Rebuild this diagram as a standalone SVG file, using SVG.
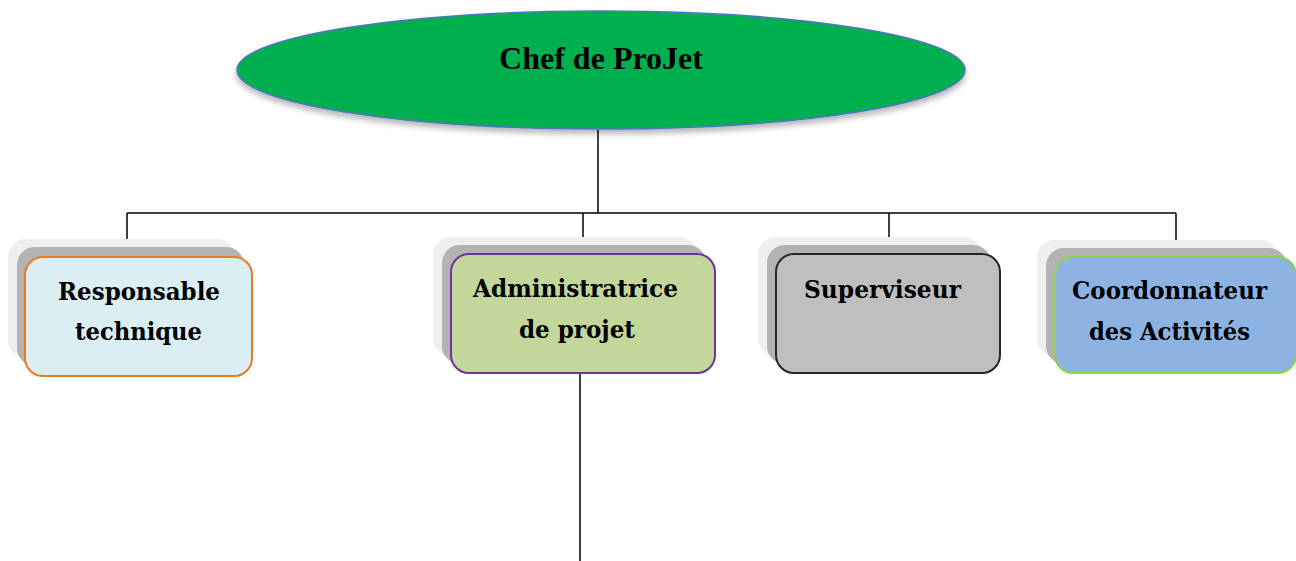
<svg xmlns="http://www.w3.org/2000/svg" width="1296" height="561" viewBox="0 0 1296 561">
<style>
.sh1{fill:#EFEFEF}
.sh2{fill:#B3B3B3}
.lbl{font-family:"DejaVu Serif","Liberation Serif",serif;font-weight:bold;font-size:24px;fill:#000;text-anchor:middle}
.con{stroke:#000;stroke-width:1.5;fill:none}
</style>
<defs>
<filter id="es" x="-10%" y="-20%" width="120%" height="150%"><feGaussianBlur in="SourceAlpha" stdDeviation="3"/><feOffset dy="4"/><feComponentTransfer><feFuncA type="linear" slope="0.3"/></feComponentTransfer><feMerge><feMergeNode/><feMergeNode in="SourceGraphic"/></feMerge></filter>
</defs>
<g id="connectors">
<line class="con" x1="598" y1="130" x2="598" y2="213"/>
<line class="con" x1="127" y1="213" x2="1176" y2="213"/>
<line class="con" x1="127" y1="213" x2="127" y2="257"/>
<line class="con" x1="583" y1="213" x2="583" y2="254"/>
<line class="con" x1="889" y1="213" x2="889" y2="254"/>
<line class="con" x1="1176" y1="213" x2="1176" y2="257"/>
<line class="con" x1="580" y1="373" x2="580" y2="561"/>
</g>
<g id="chef">
<ellipse cx="601" cy="70" rx="364" ry="59" fill="#00B050" stroke="#4F75C0" stroke-width="1.5" filter="url(#es)"/>
<text x="601" y="69" style="font-family:'Liberation Serif',serif;font-weight:bold;font-size:32px;text-anchor:middle" textLength="204" lengthAdjust="spacingAndGlyphs">Chef de ProJet</text>
</g>
<g id="responsable">
<rect class="sh1" x="8" y="239" width="227" height="119" rx="18"/>
<rect class="sh2" x="17" y="247" width="227" height="119" rx="18"/>
<rect x="25" y="257" width="227" height="119" rx="18" fill="#DAEEF3" stroke="#E97A1E" stroke-width="2"/>
<text class="lbl" x="139" y="300" textLength="162" lengthAdjust="spacingAndGlyphs">Responsable</text>
<text class="lbl" x="138.5" y="340" textLength="127" lengthAdjust="spacingAndGlyphs">technique</text>
</g>
<g id="administratrice">
<rect class="sh1" x="433" y="237" width="264" height="119" rx="18"/>
<rect class="sh2" x="442" y="245" width="264" height="119" rx="18"/>
<rect x="451" y="254" width="264" height="119" rx="18" fill="#C4D79B" stroke="#7030A0" stroke-width="2"/>
<text class="lbl" x="575.5" y="297" textLength="205" lengthAdjust="spacingAndGlyphs">Administratrice</text>
<text class="lbl" x="577" y="338" textLength="116" lengthAdjust="spacingAndGlyphs">de projet</text>
</g>
<g id="superviseur">
<rect class="sh1" x="758" y="237" width="224" height="119" rx="18"/>
<rect class="sh2" x="767" y="245" width="224" height="119" rx="18"/>
<rect x="776" y="254" width="224" height="119" rx="18" fill="#BFBFBF" stroke="#262626" stroke-width="2"/>
<text class="lbl" x="882.5" y="298" textLength="157" lengthAdjust="spacingAndGlyphs">Superviseur</text>
</g>
<g id="coordonnateur">
<rect class="sh1" x="1037" y="240" width="241" height="116" rx="18"/>
<rect class="sh2" x="1046" y="248" width="241" height="116" rx="18"/>
<rect x="1055" y="257" width="241" height="116" rx="18" fill="#8DB3E2" stroke="#92D050" stroke-width="2"/>
<text class="lbl" x="1169.5" y="299" textLength="195" lengthAdjust="spacingAndGlyphs">Coordonnateur</text>
<text class="lbl" x="1169.5" y="340" textLength="161" lengthAdjust="spacingAndGlyphs">des Activités</text>
</g>
</svg>
